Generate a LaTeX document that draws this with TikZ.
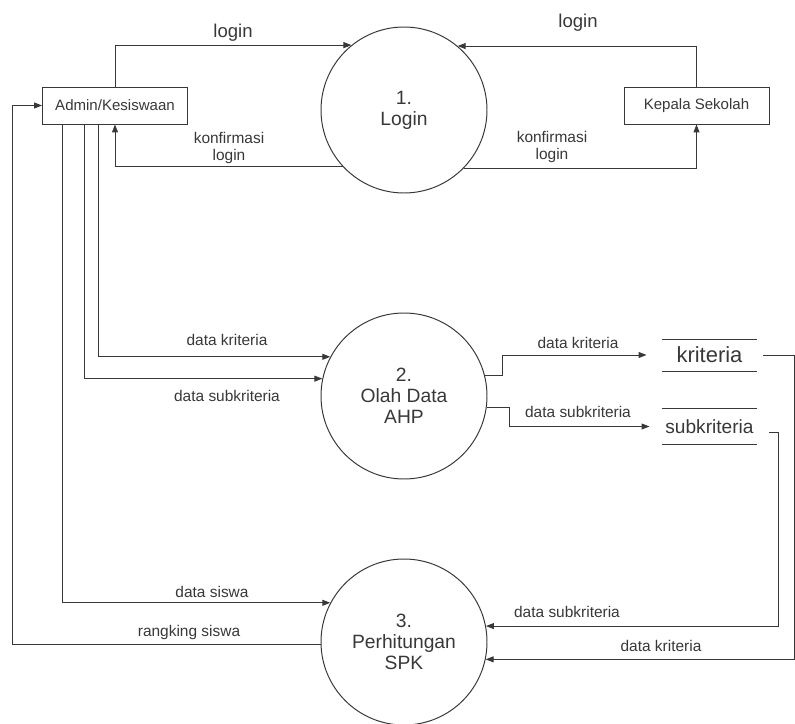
\documentclass[tikz,border=0pt]{standalone}
\usepackage{fontspec}
\setmainfont{Liberation Sans}
\usetikzlibrary{arrows.meta}

\begin{document}
\begin{tikzpicture}[color=black!78, line width=0.7pt,
		proc/.style={draw,circle,minimum size=4.15cm,inner sep=0pt,align=center,font=\fontsize{13.7}{15}\selectfont},
		ent/.style={draw,rectangle,minimum width=3.625cm,minimum height=0.925cm,font=\fontsize{10.7}{12}\selectfont},
		store/.style={minimum width=2.375cm,inner sep=0pt},
		lbl/.style={align=center,font=\fontsize{11}{12.8}\selectfont},
		flow/.style={-{Triangle[length=0.2cm,width=0.15cm]}}]

		\useasboundingbox (0,0) rectangle (19.875,-18.1);

		\node[ent] (admin) at (2.875,-2.6375) {Admin/Kesiswaan};
		\node[ent] (kepsek) at (17.4125,-2.6375) {Kepala Sekolah};
		\node[proc] (login) at (10.1,-2.75) {1.\\Login};
		\node[proc] (ahp) at (10.1,-9.9) {2.\\Olah Data\\AHP};
		\node[proc] (spk) at (10.1,-16.05) {3.\\Perhitungan\\SPK};
		\node[store,minimum height=0.775cm,font=\fontsize{15.6}{17}\selectfont] (kriteria) at (17.7375,-8.875) {kriteria};
		\node[store,minimum height=0.875cm,font=\fontsize{13.6}{15}\selectfont] (subkriteria) at (17.7375,-10.6625) {subkriteria};

		\draw (kriteria.north west) -- (kriteria.north east) (kriteria.south west) -- (kriteria.south east);
		\draw (subkriteria.north west) -- (subkriteria.north east) (subkriteria.south west) -- (subkriteria.south east);

		\coordinate (lbus) at (0.3,0);
		\coordinate (rbus) at (19.85,0);

		% login
		\draw[flow] (admin.north) |- (login.129.5);
		\draw[flow] (kepsek.north) |- (login.50.5);
		\draw[flow] (login.223.4) -| (admin.south);
		\draw[flow] (login.316.6) -| (kepsek.south);

		\node[lbl,font=\fontsize{13.2}{15}\selectfont] (l1) at (5.825,-0.825) {login};
		\node[lbl,font=\fontsize{13.2}{15}\selectfont] (l2) at (14.45,-0.575) {login};
		\node[lbl] (l3) at (5.725,-3.7) {konfirmasi\\login};
		\node[lbl] (l4) at (13.8,-3.675) {konfirmasi\\login};

		% olah data
		\draw[flow] ([xshift=-0.425cm]admin.south) |- (ahp.152);
		\draw[flow] ([xshift=-0.775cm]admin.south) |- (ahp.168.9);
		\draw[flow] (ahp.14) -- ++(0.44,0) |- ([xshift=-0.375cm]kriteria.west);
		\draw[flow] (ahp.352.4) -- ++(0.575,0) |- ([xshift=-0.3cm]subkriteria.west);

		\node[lbl] (l5) at (5.675,-8.5) {data kriteria};
		\node[lbl] (l6) at (5.675,-9.9) {data subkriteria};
		\node[lbl] (l7) at (14.45,-8.575) {data kriteria};
		\node[lbl] (l8) at (14.45,-10.3) {data subkriteria};

		% perhitungan
		\draw[flow] ([xshift=-1.325cm]admin.south) |- (spk.152);
		\draw[flow] (spk.182) -- (spk.182 -| lbus) |- (admin.west);
		\draw[flow] ([xshift=0.3cm,yshift=-0.16cm]subkriteria.east) -- ++(0.225,0) |- (spk.11.1);
		\draw[flow] ([xshift=0.15cm]kriteria.east) -- (kriteria.east -| rbus) |- (spk.348.9);

		\node[lbl] (l9) at (5.3,-14.8) {data siswa};
		\node[lbl] (l10) at (4.725,-15.8) {rangking siswa};
		\node[lbl] (l11) at (14.175,-15.3) {data subkriteria};
		\node[lbl] (l12) at (16.525,-16.15) {data kriteria};

	\end{tikzpicture}
\end{document}
